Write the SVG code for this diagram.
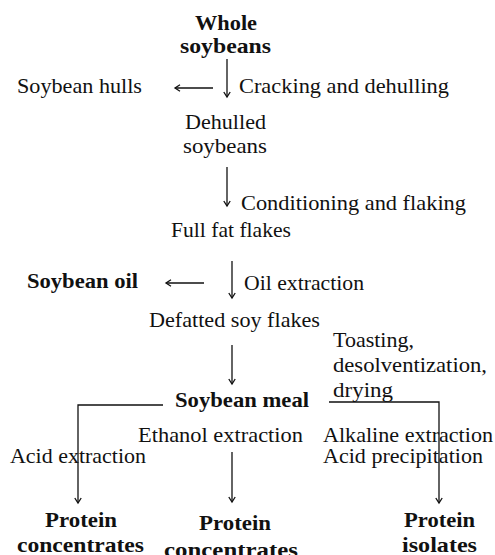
<svg xmlns="http://www.w3.org/2000/svg" width="495" height="555" viewBox="0 0 495 555">
  <style>
    text { font-family: "Liberation Serif", "Times New Roman", serif; font-size: 21px; fill: #111; }
    .b { font-weight: bold; }
    .wire { fill: none; stroke: #111; stroke-width: 1.3; }
  </style>
  <defs>
    <marker id="head" markerUnits="userSpaceOnUse" viewBox="-6 -6 12 12" markerWidth="12" markerHeight="12" refX="0" refY="0" orient="auto">
      <path d="M-5,-3.2 L0,0 L-5,3.2" fill="none" stroke="#111" stroke-width="1.3"/>
    </marker>
  </defs>
  <rect width="495" height="555" fill="#fff"/>

  <g id="connectors" class="wire">
    <path d="M227,59 V97" marker-end="url(#head)"/>
    <path d="M213,88 H175" marker-end="url(#head)"/>
    <path d="M227,167 V206" marker-end="url(#head)"/>
    <path d="M232,261 V298" marker-end="url(#head)"/>
    <path d="M204,283 H166" marker-end="url(#head)"/>
    <path d="M232,345 V384" marker-end="url(#head)"/>
    <path d="M163,405 H78 V503" marker-end="url(#head)"/>
    <path d="M329,402 H439 V503" marker-end="url(#head)"/>
    <path d="M232,452 V502" marker-end="url(#head)"/>
  </g>

  <g id="whole-soybeans">
    <text class="b" x="195" y="30" textLength="62" lengthAdjust="spacingAndGlyphs">Whole</text>
    <text class="b" x="180" y="53" textLength="91" lengthAdjust="spacingAndGlyphs">soybeans</text>
  </g>
  <g id="soybean-hulls">
    <text x="17" y="93" textLength="125" lengthAdjust="spacingAndGlyphs">Soybean hulls</text>
  </g>
  <g id="label-cracking">
    <text x="239" y="93" textLength="210" lengthAdjust="spacingAndGlyphs">Cracking and dehulling</text>
  </g>
  <g id="dehulled-soybeans">
    <text x="185" y="129" textLength="81" lengthAdjust="spacingAndGlyphs">Dehulled</text>
    <text x="183" y="153" textLength="84" lengthAdjust="spacingAndGlyphs">soybeans</text>
  </g>
  <g id="label-conditioning">
    <text x="241" y="210" textLength="225" lengthAdjust="spacingAndGlyphs">Conditioning and flaking</text>
  </g>
  <g id="full-fat-flakes">
    <text x="171" y="237" textLength="120" lengthAdjust="spacingAndGlyphs">Full fat flakes</text>
  </g>
  <g id="soybean-oil">
    <text class="b" x="27" y="288" textLength="111" lengthAdjust="spacingAndGlyphs">Soybean oil</text>
  </g>
  <g id="label-oil-extraction">
    <text x="244" y="290" textLength="120" lengthAdjust="spacingAndGlyphs">Oil extraction</text>
  </g>
  <g id="defatted-soy-flakes">
    <text x="149" y="327" textLength="171" lengthAdjust="spacingAndGlyphs">Defatted soy flakes</text>
  </g>
  <g id="label-toasting">
    <text x="333" y="347" textLength="81" lengthAdjust="spacingAndGlyphs">Toasting,</text>
    <text x="333" y="372" textLength="154" lengthAdjust="spacingAndGlyphs">desolventization,</text>
    <text x="333" y="397" textLength="60" lengthAdjust="spacingAndGlyphs">drying</text>
  </g>
  <g id="soybean-meal">
    <text class="b" x="175" y="407" textLength="134" lengthAdjust="spacingAndGlyphs">Soybean meal</text>
  </g>
  <g id="label-ethanol">
    <text x="138" y="442" textLength="165" lengthAdjust="spacingAndGlyphs">Ethanol extraction</text>
  </g>
  <g id="label-alkaline">
    <text x="323" y="442" textLength="170" lengthAdjust="spacingAndGlyphs">Alkaline extraction</text>
    <text x="323" y="463" textLength="160" lengthAdjust="spacingAndGlyphs">Acid precipitation</text>
  </g>
  <g id="label-acid">
    <text x="10" y="463" textLength="136" lengthAdjust="spacingAndGlyphs">Acid extraction</text>
  </g>
  <g id="protein-concentrates-acid">
    <text class="b" x="45" y="527" textLength="72" lengthAdjust="spacingAndGlyphs">Protein</text>
    <text class="b" x="17" y="552" textLength="127" lengthAdjust="spacingAndGlyphs">concentrates</text>
  </g>
  <g id="protein-concentrates-ethanol">
    <text class="b" x="199" y="530" textLength="72" lengthAdjust="spacingAndGlyphs">Protein</text>
    <text class="b" x="164" y="557" textLength="134" lengthAdjust="spacingAndGlyphs">concentrates</text>
  </g>
  <g id="protein-isolates">
    <text class="b" x="404" y="527" textLength="71" lengthAdjust="spacingAndGlyphs">Protein</text>
    <text class="b" x="402" y="552" textLength="75" lengthAdjust="spacingAndGlyphs">isolates</text>
  </g>
</svg>
